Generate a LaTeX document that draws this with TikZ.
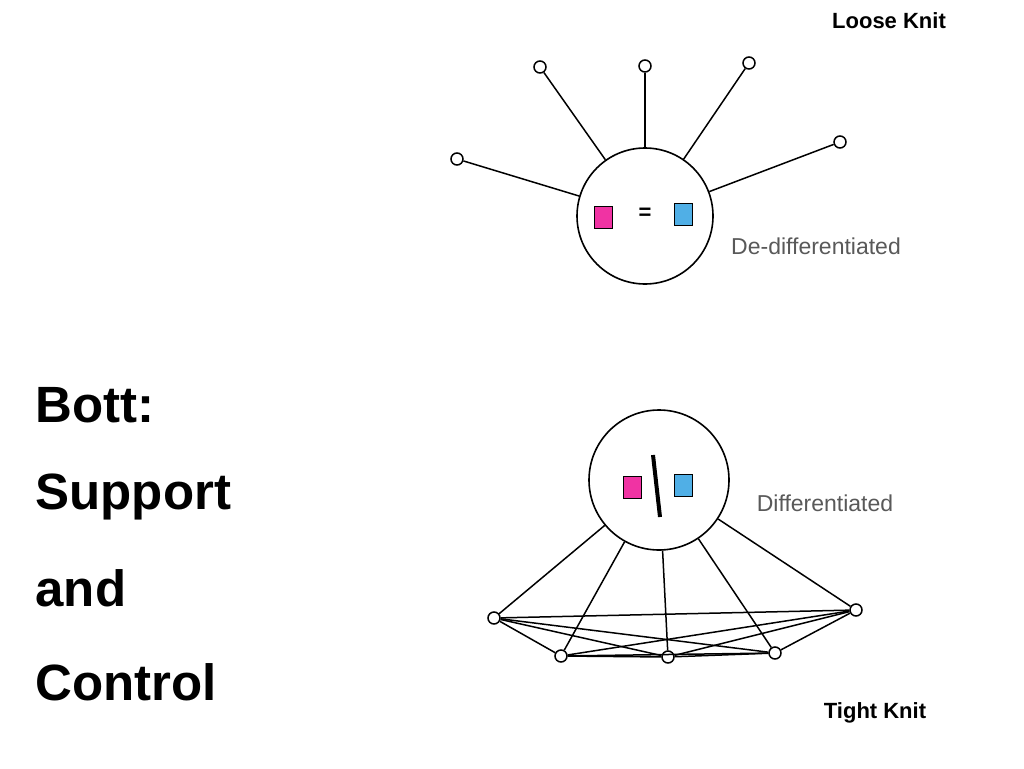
\documentclass[tikz,border=0pt]{standalone}
\usepackage{fontspec}
\setmainfont{Liberation Sans}
\begin{document}
\begin{tikzpicture}[x=1pt,y=-1pt,
  sat/.style={circle,draw,line width=1.5pt,fill=white,inner sep=0pt,minimum size=12pt},
  big/.style={circle,draw,line width=1.6pt,inner sep=0pt},
  conn/.style={line width=1.5pt},
  sq/.style={draw,thin,inner sep=0pt,minimum width=18pt,minimum height=22pt},
  lab/.style={font=\fontsize{23}{27}\selectfont,text=black!65},
  ttl/.style={font=\bfseries\fontsize{22}{26}\selectfont},
  side/.style={font=\bfseries\fontsize{51}{56}\selectfont,anchor=west}]
\useasboundingbox[fill=white] (0,0) rectangle (1024,768);
% top
\node[big,minimum size=136pt] (C) at (645,216) {};
\foreach \n/\p in {a/{(540,67)},b/{(645,66)},c/{(749,63)},d/{(840,142)},e/{(457,159)}}
  {\node[sat] (\n) at \p {}; \draw[conn] (\n) -- (C);}
\node[sq,fill=magenta!80] (p1) at (603,217) {};
\node[sq,fill=cyan!80!blue!70] (b1) at (683,214) {};
\node[font=\bfseries\fontsize{22}{26}\selectfont] (eq) at (645,214) {=};
\node[lab] (l1) at (816,246) {De-differentiated};
\node[ttl] (t1) at (889,21) {Loose Knit};
% bottom
\node[big,minimum size=140pt] (D) at (659,480) {};
\foreach \n/\p in {v/{(494,618)},w/{(561,656)},x/{(668,657)},y/{(775,653)},z/{(856,610)}}
  {\node[sat] (\n) at \p {}; \draw[conn] (\n) -- (D);}
\foreach \u/\v in {v/w,v/x,v/y,v/z,w/x,w/y,w/z,x/y,x/z,y/z} \draw[conn] (\u) -- (\v);
\node[sq,fill=magenta!80] (p2) at (632,487) {};
\node[sq,fill=cyan!80!blue!70] (b2) at (683,485) {};
\coordinate (s1) at (653,455); \coordinate (s2) at (660,517);
\draw[line width=4pt] (s1) -- (s2);
\node[lab] (l2) at (825,503) {Differentiated};
\node[ttl] (t2) at (875,713) {Tight Knit};
% side
\node[side] (s a) at (32,405) {Bott:};
\node[side] (s b) at (32,497) {Support};
\node[side] (s c) at (32,588) {and};
\node[side] (s d) at (32,682) {Control};
\end{tikzpicture}
\end{document}
